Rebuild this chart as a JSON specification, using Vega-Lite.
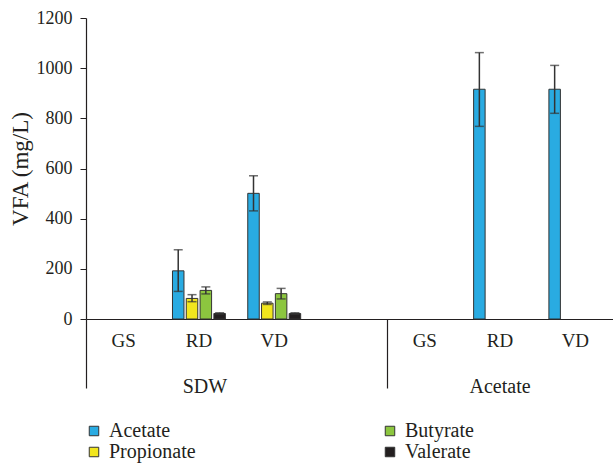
{
  "$schema": "https://vega.github.io/schema/vega-lite/v6.json",
  "autosize": "none",
  "padding": {"left": 86, "top": 18, "right": 0, "bottom": 145},
  "width": 527,
  "height": 301,
  "background": "white",
  "config": {
    "view": {"stroke": null},
    "font": "Liberation Serif",
    "axis": {"labelFont": "Liberation Serif", "titleFont": "Liberation Serif", "labelColor": "#231F20", "titleColor": "#231F20", "titleFontWeight": "normal"},
    "legend": {"labelFont": "Liberation Serif", "labelColor": "#231F20"}
  },
  "data": {
    "values": [
      {"cat": "SDW|RD", "acid": "Acetate", "value": 192, "lo": 110, "hi": 276},
      {"cat": "SDW|RD", "acid": "Propionate", "value": 82, "lo": 69, "hi": 97},
      {"cat": "SDW|RD", "acid": "Butyrate", "value": 114, "lo": 100, "hi": 128},
      {"cat": "SDW|RD", "acid": "Valerate", "value": 22, "lo": 19, "hi": 25},
      {"cat": "SDW|VD", "acid": "Acetate", "value": 501, "lo": 431, "hi": 571},
      {"cat": "SDW|VD", "acid": "Propionate", "value": 63, "lo": 58, "hi": 68},
      {"cat": "SDW|VD", "acid": "Butyrate", "value": 101, "lo": 80, "hi": 122},
      {"cat": "SDW|VD", "acid": "Valerate", "value": 22, "lo": 19, "hi": 25},
      {"cat": "Acetate|RD", "acid": "Acetate", "value": 916, "lo": 768, "hi": 1062},
      {"cat": "Acetate|VD", "acid": "Acetate", "value": 916, "lo": 820, "hi": 1011}
    ]
  },
  "resolve": {"axis": {"x": "independent"}},
  "layer": [
    {
      "mark": {"type": "bar", "stroke": "#333333", "strokeWidth": 1},
      "encoding": {
        "x": {
          "field": "cat", "type": "nominal",
          "scale": {"domain": ["SDW|GS", "SDW|RD", "SDW|VD", "SDW|", "Acetate|GS", "Acetate|RD", "Acetate|VD"], "paddingInner": 0, "paddingOuter": 0},
          "axis": {"orient": "bottom", "title": null, "ticks": false, "domain": true, "domainColor": "#231F20", "domainWidth": 1.2, "labelExpr": "split(datum.value, '|')[1]", "labelAngle": 0, "labelFont": "Liberation Serif", "labelFontSize": 19, "labelPadding": 12}
        },
        "xOffset": {
          "field": "acid", "type": "nominal",
          "scale": {"domain": ["Acetate", "Propionate", "Butyrate", "Valerate"], "paddingInner": 0.167, "paddingOuter": 0.81}
        },
        "y": {
          "field": "value", "type": "quantitative",
          "scale": {"domain": [0, 1200], "nice": false},
          "axis": {"title": "VFA (mg/L)", "values": [0, 200, 400, 600, 800, 1000, 1200], "format": "d", "grid": false, "tickSize": 6, "tickColor": "#231F20", "domainColor": "#231F20", "domainWidth": 1.2, "labelFont": "Liberation Serif", "labelFontSize": 18, "labelPadding": 8, "titleFont": "Liberation Serif", "titleFontSize": 23, "titlePadding": 4}
        },
        "color": {
          "field": "acid", "type": "nominal",
          "scale": {"domain": ["Acetate", "Propionate", "Butyrate", "Valerate"], "range": ["#29ABE2", "#F2E61E", "#8CC63F", "#231F20"]},
          "legend": {"title": null, "orient": "none", "legendX": -2, "legendY": 403, "columns": 2, "columnPadding": 184, "rowPadding": 1, "symbolType": "square", "symbolSize": 90, "symbolStrokeColor": "#333333", "symbolStrokeWidth": 1, "labelFont": "Liberation Serif", "labelFontSize": 20, "labelOffset": 5}
        }
      }
    },
    {
      "mark": {"type": "rule", "color": "#333333", "strokeWidth": 1.5},
      "encoding": {
        "x": {"field": "cat", "type": "nominal", "axis": null},
        "xOffset": {"field": "acid", "type": "nominal"},
        "y": {"field": "lo", "type": "quantitative", "title": "VFA (mg/L)"},
        "y2": {"field": "hi"}
      }
    },
    {
      "mark": {"type": "tick", "color": "#333333", "size": 9, "thickness": 1.5},
      "encoding": {
        "x": {"field": "cat", "type": "nominal", "axis": null},
        "xOffset": {"field": "acid", "type": "nominal"},
        "y": {"field": "lo", "type": "quantitative", "title": "VFA (mg/L)"}
      }
    },
    {
      "mark": {"type": "tick", "color": "#333333", "size": 9, "thickness": 1.5},
      "encoding": {
        "x": {
          "field": "cat", "type": "nominal",
          "axis": {"orient": "bottom", "title": null, "domain": false, "ticks": true, "bandPosition": 0, "tickSize": 69, "tickWidth": 1.2, "tickColor": "#231F20",
            "tickOpacity": {"condition": {"test": "datum.value === 'SDW|GS' || datum.value === 'Acetate|GS'", "value": 1}, "value": 0},
            "labelExpr": "datum.value === 'SDW|RD' ? 'SDW' : (datum.value === 'Acetate|RD' ? 'Acetate' : '')",
            "labelOffset": {"condition": {"test": "datum.value === 'SDW|RD'", "value": 6}, "value": 0},
            "labelAngle": 0, "labelFont": "Liberation Serif", "labelFontSize": 20, "labelPadding": -12}
        },
        "xOffset": {"field": "acid", "type": "nominal"},
        "y": {"field": "hi", "type": "quantitative", "title": "VFA (mg/L)"}
      }
    }
  ]
}
